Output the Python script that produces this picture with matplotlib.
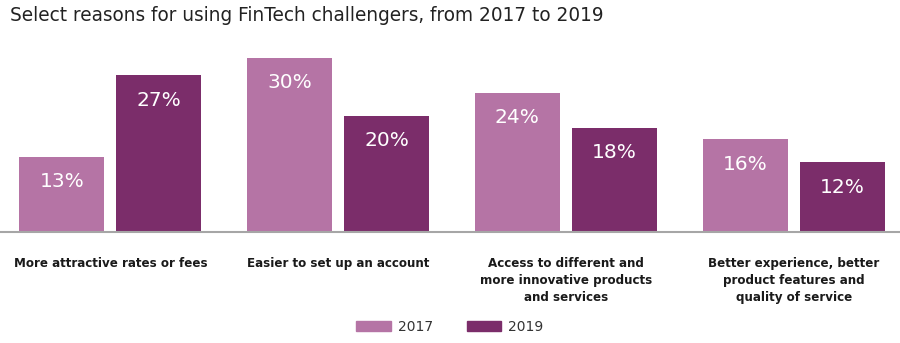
import matplotlib
matplotlib.use("Agg")
from matplotlib import pyplot as plt
from matplotlib.patches import Patch
import numpy as np

categories = ["More attractive rates or fees",
              "Easier to set up an account",
              "Access to different and\nmore innovative products\nand services",
              "Better experience, better\nproduct features and\nquality of service"]
values_2017 = [13, 30, 24, 16]
values_2019 = [27, 20, 18, 12]
series_labels = ["2017", "2019"]

c17 = "#b574a5"
c19 = "#7b2d6a"

fig = plt.figure(figsize=(9, 3.43), dpi=100)
ax = fig.add_axes([0, 111 / 343, 1, 174 / 343])

x = np.arange(len(categories))
w = 0.373
off = 0.213
b1 = ax.bar(x - off, values_2017, w, color=c17)
b2 = ax.bar(x + off, values_2019, w, color=c19)

for bars, vals in [(b1, values_2017), (b2, values_2019)]:
    for b, v in zip(bars, vals):
        ax.annotate(f"{v}%", (b.get_x() + b.get_width() / 2, v),
                    xytext=(0, -18), textcoords="offset points",
                    ha="center", va="center", color="white", fontsize=14.5)

ax.set_xlim(-0.485, 3.467)
ax.set_ylim(0, 30)
for s in ["top", "right", "left"]:
    ax.spines[s].set_visible(False)
ax.spines["bottom"].set_color("#a6a6a6")
ax.spines["bottom"].set_linewidth(1.5)
ax.set_yticks([])
ax.set_xticks(x)
ax.set_xticklabels(categories, fontsize=8.6, fontweight="bold",
                   linespacing=1.42, color="#1a1a1a")
ax.tick_params(axis="x", length=0, pad=18)

fig.text(0.011, 0.955, "Select reasons for using FinTech challengers, from 2017 to 2019",
         fontsize=13.35, va="center", ha="left", color="#222222")

handles = [Patch(color=c17, label=series_labels[0]),
           Patch(color=c19, label=series_labels[1])]
fig.legend(handles=handles, loc="center", bbox_to_anchor=(0.5, 1 - 327 / 343),
           ncol=2, frameon=False, fontsize=10, handlelength=2.5, handleheight=0.8,
           columnspacing=2.4, handletextpad=0.5, labelcolor="#333333")

fig.savefig("out.png", dpi=100)
